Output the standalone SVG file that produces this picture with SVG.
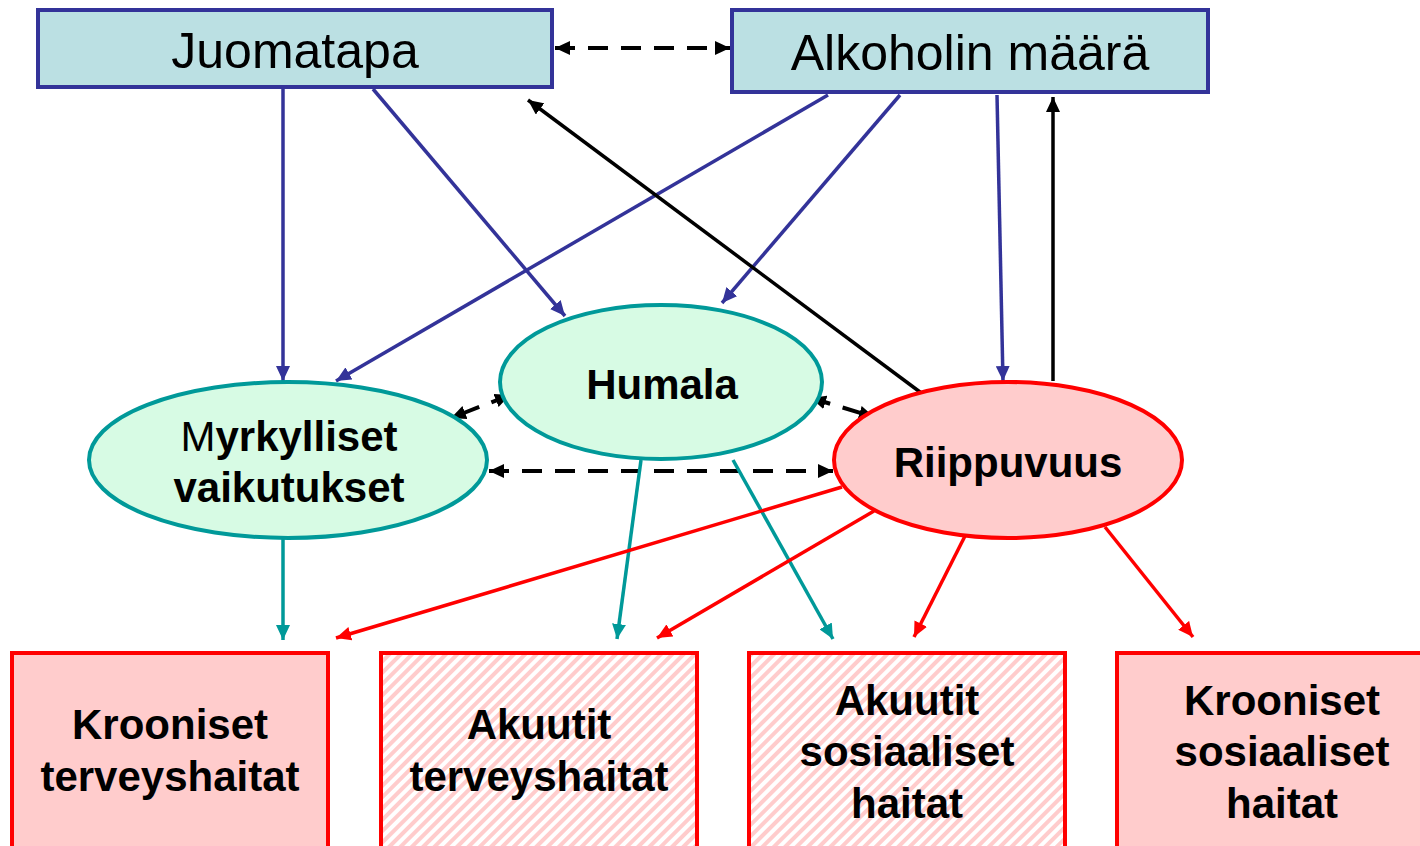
<svg xmlns="http://www.w3.org/2000/svg" width="1420" height="846" viewBox="0 0 1420 846">
<style>
.top{fill:#BBE0E3;stroke:#333399;stroke-width:4}
.ell-g{fill:#D7FBE4;stroke:#009999;stroke-width:4}
.ell-r{fill:#FFCCCC;stroke:#FF0000;stroke-width:4}
.bot{stroke:#FF0000;stroke-width:4}
.t1{font-family:"Liberation Sans",Arial,sans-serif;font-size:50px;fill:#000;text-anchor:middle}
.t2{font-family:"Liberation Sans",Arial,sans-serif;font-size:42px;font-weight:bold;fill:#000;text-anchor:middle}
.blue{stroke:#333399;stroke-width:3.5;fill:none;marker-end:url(#ab)}
.blk{stroke:#000;stroke-width:3.5;fill:none;marker-end:url(#ak)}
.dash{stroke:#000;stroke-width:4;fill:none;stroke-dasharray:20 13;marker-start:url(#ak);marker-end:url(#ak)}
.teal{stroke:#009999;stroke-width:3.5;fill:none;marker-end:url(#at)}
.red{stroke:#FF0000;stroke-width:3.5;fill:none;marker-end:url(#ar)}
</style>
<defs>
<marker id="ab" markerUnits="userSpaceOnUse" markerWidth="15" markerHeight="14" refX="15" refY="7" orient="auto-start-reverse"><path d="M0,0 L15,7 L0,14 z" fill="#333399"/></marker>
<marker id="ak" markerUnits="userSpaceOnUse" markerWidth="15" markerHeight="14" refX="15" refY="7" orient="auto-start-reverse"><path d="M0,0 L15,7 L0,14 z" fill="#000"/></marker>
<marker id="at" markerUnits="userSpaceOnUse" markerWidth="15" markerHeight="14" refX="15" refY="7" orient="auto-start-reverse"><path d="M0,0 L15,7 L0,14 z" fill="#009999"/></marker>
<marker id="ar" markerUnits="userSpaceOnUse" markerWidth="15" markerHeight="14" refX="15" refY="7" orient="auto-start-reverse"><path d="M0,0 L15,7 L0,14 z" fill="#FF0000"/></marker>
<pattern id="hatch" patternUnits="userSpaceOnUse" width="8" height="8" patternTransform="rotate(45)">
<rect width="8" height="8" fill="#FFFFFF"/>
<rect width="4" height="8" fill="#FFCCCC"/>
</pattern>
</defs>

<g id="connectors">
<line class="blue" x1="283" y1="89" x2="283" y2="381"/>
<line class="blue" x1="373" y1="89" x2="565" y2="316"/>
<line class="blue" x1="828" y1="95" x2="336" y2="381"/>
<line class="blue" x1="900" y1="95" x2="722" y2="303"/>
<line class="blue" x1="997" y1="95" x2="1003" y2="381"/>
<line class="blk" x1="924" y1="395" x2="528" y2="100"/>
<line class="blk" x1="1053" y1="381" x2="1053" y2="97"/>
<line class="dash" x1="555" y1="48" x2="730" y2="48"/>
<line class="dash" x1="510" y1="395" x2="451" y2="418"/>
<line class="dash" x1="811" y1="398" x2="874" y2="417"/>
<line class="dash" x1="489" y1="471" x2="833" y2="471"/>
<line class="teal" x1="283" y1="539" x2="283" y2="640"/>
<line class="teal" x1="641" y1="460" x2="617" y2="639"/>
<line class="teal" x1="733" y1="460" x2="833" y2="639"/>
<line class="red" x1="842" y1="487" x2="336" y2="638"/>
<line class="red" x1="874" y1="511" x2="657" y2="638"/>
<line class="red" x1="965" y1="536" x2="914" y2="637"/>
<line class="red" x1="1105" y1="527" x2="1193" y2="637"/>
</g>

<g id="juomatapa">
<rect class="top" x="38" y="10" width="514" height="77"/>
<text class="t1" x="295" y="68">Juomatapa</text>
</g>
<g id="alkoholin">
<rect class="top" x="732" y="10" width="476" height="82"/>
<text class="t1" x="970" y="70">Alkoholin määrä</text>
</g>
<g id="humala">
<ellipse class="ell-g" cx="661" cy="382" rx="161" ry="77"/>
<text class="t2" x="662" y="399">Humala</text>
</g>
<g id="myrkylliset">
<ellipse class="ell-g" cx="288" cy="460" rx="199" ry="78"/>
<text class="t2" x="289" y="451"><tspan font-weight="normal">M</tspan>yrkylliset</text>
<text class="t2" x="289" y="502">vaikutukset</text>
</g>
<g id="riippuvuus">
<ellipse class="ell-r" cx="1008" cy="460" rx="174" ry="78"/>
<text class="t2" x="1008" y="477">Riippuvuus</text>
</g>
<g id="krooniset-terveys">
<rect class="bot" x="12" y="653" width="316" height="195" fill="#FFCCCC"/>
<text class="t2" x="170" y="739">Krooniset</text>
<text class="t2" x="170" y="791">terveyshaitat</text>
</g>
<g id="akuutit-terveys">
<rect class="bot" x="381" y="653" width="316" height="195" fill="url(#hatch)"/>
<text class="t2" x="539" y="739">Akuutit</text>
<text class="t2" x="539" y="791">terveyshaitat</text>
</g>
<g id="akuutit-sosiaaliset">
<rect class="bot" x="749" y="653" width="316" height="195" fill="url(#hatch)"/>
<text class="t2" x="907" y="715">Akuutit</text>
<text class="t2" x="907" y="766">sosiaaliset</text>
<text class="t2" x="907" y="818">haitat</text>
</g>
<g id="krooniset-sosiaaliset">
<rect class="bot" x="1117" y="653" width="316" height="195" fill="#FFCCCC"/>
<text class="t2" x="1282" y="715">Krooniset</text>
<text class="t2" x="1282" y="766">sosiaaliset</text>
<text class="t2" x="1282" y="818">haitat</text>
</g>
</svg>
